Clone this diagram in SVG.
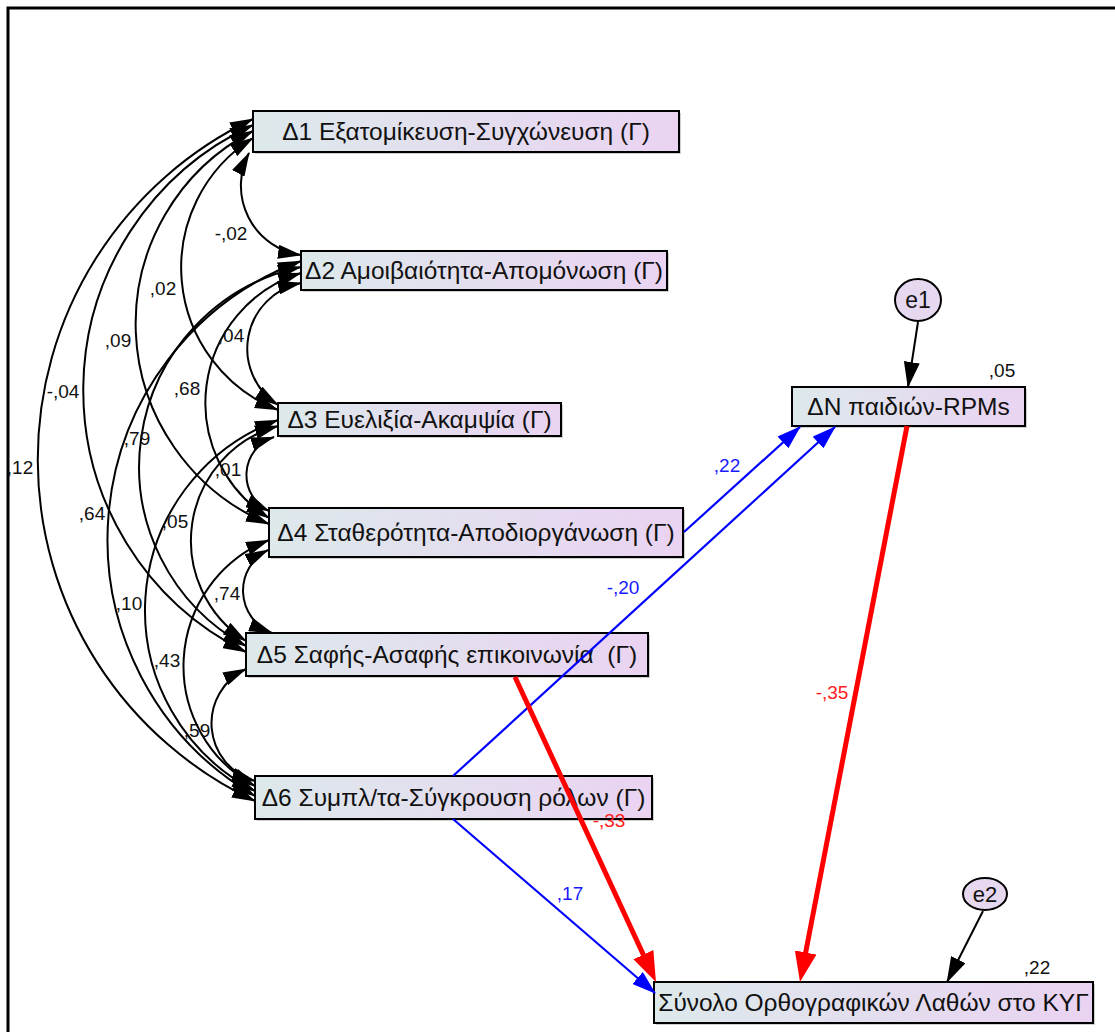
<svg xmlns="http://www.w3.org/2000/svg" width="1115" height="1032" viewBox="0 0 1115 1032">
<defs>
<linearGradient id="gbox" x1="0" y1="0" x2="1" y2="0">
<stop offset="0" stop-color="#dde9eb"/>
<stop offset="1" stop-color="#ead3f2"/>
</linearGradient>
<marker id="mk" markerUnits="userSpaceOnUse" viewBox="0 0 24 14" markerWidth="24" markerHeight="14" refX="23" refY="7" orient="auto-start-reverse">
<path d="M0,0 L24,7 L0,14 z" fill="#000"/>
</marker>
<marker id="mb" markerUnits="userSpaceOnUse" viewBox="0 0 24 16" markerWidth="24" markerHeight="16" refX="23" refY="8" orient="auto">
<path d="M0,0 L24,8 L0,16 z" fill="#0000ff"/>
</marker>
<marker id="mr" markerUnits="userSpaceOnUse" viewBox="0 0 30 22" markerWidth="30" markerHeight="22" refX="22" refY="11" orient="auto">
<path d="M0,0 L30,11 L0,22 z" fill="#ff0000"/>
</marker>
<marker id="me" markerUnits="userSpaceOnUse" viewBox="0 0 26 16" markerWidth="26" markerHeight="16" refX="25" refY="8" orient="auto">
<path d="M0,0 L26,8 L0,16 z" fill="#000"/>
</marker>
</defs>
<style>
.box{fill:url(#gbox);stroke:#000;stroke-width:2}
.shadow{fill:#cfcfcf}
.bt{font-family:"Liberation Sans",Arial,sans-serif;font-size:24.5px;fill:#111;text-anchor:middle;white-space:pre}
.lb{font-family:"Liberation Sans",Arial,sans-serif;font-size:19px;fill:#111;text-anchor:middle}
.blue{fill:#1a1aff}
.red{fill:#ff2020}
.cov{fill:none;stroke:#000;stroke-width:2;marker-start:url(#mk);marker-end:url(#mk)}
.pb{fill:none;stroke:#0000ff;stroke-width:2.2;marker-end:url(#mb)}
.pr{fill:none;stroke:#ff0000;stroke-width:5;marker-end:url(#mr)}
.pe{fill:none;stroke:#000;stroke-width:2;marker-end:url(#me)}
.ell{fill:#e6d8ef;stroke:#000;stroke-width:2}
</style>
<rect x="8" y="8" width="1120" height="1040" fill="#fff" stroke="#000" stroke-width="3"/>

<g id="d1"><rect class="shadow" x="255" y="113" width="426" height="41"/><rect class="box" x="253" y="111" width="426" height="41"/><text class="bt" x="466" y="140">Δ1 Εξατομίκευση-Συγχώνευση (Γ)</text></g>
<g id="d2"><rect class="shadow" x="303" y="253" width="366" height="39"/><rect class="box" x="301" y="251" width="366" height="39"/><text class="bt" x="484" y="279">Δ2 Αμοιβαιότητα-Απομόνωση (Γ)</text></g>
<g id="d3"><rect class="shadow" x="280" y="405" width="283" height="33"/><rect class="box" x="278" y="403" width="283" height="33"/><text class="bt" x="419.5" y="428">Δ3 Ευελιξία-Ακαμψία (Γ)</text></g>
<g id="d4"><rect class="shadow" x="271" y="510" width="414" height="49"/><rect class="box" x="269" y="508" width="414" height="49"/><text class="bt" x="476" y="541">Δ4 Σταθερότητα-Αποδιοργάνωση (Γ)</text></g>
<g id="d5"><rect class="shadow" x="248" y="635" width="402" height="43"/><rect class="box" x="246" y="633" width="402" height="43"/><text class="bt" x="447" y="663">Δ5 Σαφής-Ασαφής επικοινωνία  (Γ)</text></g>
<g id="d6"><rect class="shadow" x="257" y="778" width="397" height="43"/><rect class="box" x="255" y="776" width="397" height="43"/><text class="bt" x="453.5" y="806">Δ6 Συμπλ/τα-Σύγκρουση ρόλων (Γ)</text></g>
<g id="dn"><rect class="shadow" x="794" y="389" width="233" height="39"/><rect class="box" x="792" y="387" width="233" height="39"/><text class="bt" x="908.5" y="415">ΔΝ παιδιών-RPMs</text><text class="lb" x="1002" y="377">,05</text></g>
<g id="sum"><rect class="shadow" x="656" y="984" width="439" height="41"/><rect class="box" x="654" y="982" width="439" height="41"/><text class="bt" x="873.5" y="1011">Σύνολο Ορθογραφικών Λαθών στο ΚΥΓ</text><text class="lb" x="1037" y="974">,22</text></g>
<g id="e1"><ellipse class="ell" cx="918" cy="300" rx="23" ry="21"/><text class="bt" x="918" y="308" style="font-size:23px">e1</text></g>
<g id="e2"><ellipse class="ell" cx="985" cy="894" rx="22" ry="16"/><text class="bt" x="985" y="902" style="font-size:22px">e2</text></g>

<g id="connectors">
<path class="cov" d="M249,153 A70,70 0 0 0 301,255"/>
<path class="cov" d="M253,138 A153,153 0 0 0 278,410"/>
<path class="cov" d="M253,131 A217,217 0 0 0 269,524"/>
<path class="cov" d="M253,125 A292,292 0 0 0 246,652"/>
<path class="cov" d="M253,119 A377,377 0 0 0 255,801"/>
<path class="cov" d="M301,283 A67,67 0 0 0 278,405"/>
<path class="cov" d="M301,273 A136,136 0 0 0 269,518"/>
<path class="cov" d="M301,267 A204,204 0 0 0 246,646"/>
<path class="cov" d="M301,261 A297,297 0 0 0 255,796"/>
<path class="cov" d="M274,437 A40,40 0 0 0 269,511"/>
<path class="cov" d="M278,426 A119,119 0 0 0 246,641"/>
<path class="cov" d="M278,420 A203,203 0 0 0 255,791"/>
<path class="cov" d="M268,550 A45.5,45.5 0 0 0 272,633"/>
<path class="cov" d="M269,540 A136,136 0 0 0 255,786"/>
<path class="cov" d="M246,669 A60,60 0 0 0 255,781"/>

<path class="pb" d="M684,532 L800,427"/>
<path class="pb" d="M453,776 L835,427"/>
<path class="pb" d="M453,819 L655,993"/>
<path class="pr" d="M515,677 L652.6,974.7"/>
<path class="pr" d="M907,426 L801.5,974.1"/>
<path class="pe" d="M918,322 L908,387"/>
<path class="pe" d="M983,911 L947,982"/>

<text class="lb" x="231" y="240">-,02</text>
<text class="lb" x="163" y="295">,02</text>
<text class="lb" x="118" y="347">,09</text>
<text class="lb" x="231" y="342">,04</text>
<text class="lb" x="63" y="398">-,04</text>
<text class="lb" x="187" y="395">,68</text>
<text class="lb" x="137" y="445">,79</text>
<text class="lb" x="20" y="474">,12</text>
<text class="lb" x="228" y="476">,01</text>
<text class="lb" x="92" y="520">,64</text>
<text class="lb" x="175" y="528">,05</text>
<text class="lb" x="227" y="600">,74</text>
<text class="lb" x="129" y="610">,10</text>
<text class="lb" x="167" y="667">,43</text>
<text class="lb" x="197" y="737">,59</text>
<text class="lb blue" x="727" y="472">,22</text>
<text class="lb blue" x="623" y="594">-,20</text>
<text class="lb blue" x="570" y="900">,17</text>
<text class="lb red" x="832" y="699">-,35</text>
<text class="lb red" x="609" y="827">-,33</text>
</g>
</svg>
